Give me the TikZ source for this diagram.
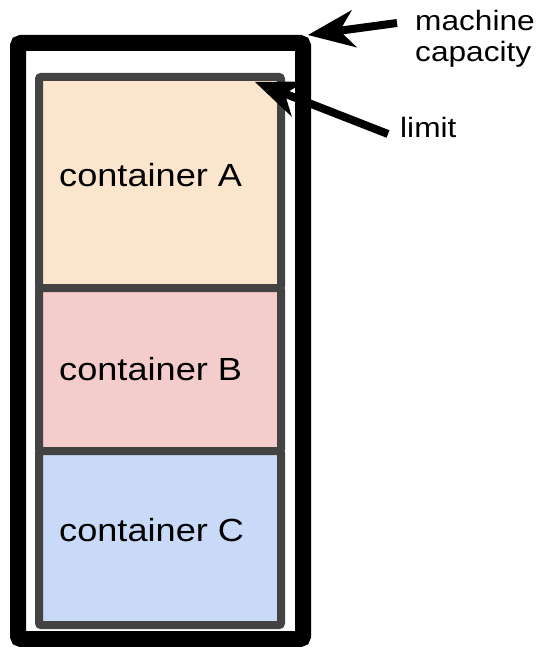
\documentclass[tikz,border=0pt]{standalone}
\usepackage{fontspec}
\setmainfont{Liberation Sans}[FakeStretch=1.13]
\usetikzlibrary{arrows.meta}

\definecolor{boxgray}{HTML}{434343}
\definecolor{fillA}{HTML}{FCE5CD}
\definecolor{fillB}{HTML}{F4CCCC}
\definecolor{fillC}{HTML}{C9DAF8}

\begin{document}
\begin{tikzpicture}[x=1pt, y=-1pt, machine/.style={draw, line width=16pt, rounded corners=3pt, inner sep=0pt, outer sep=0pt}, box/.style={draw=boxgray, line width=8pt, rounded corners=2pt, inner sep=0pt, outer sep=0pt, minimum width=242pt}, boxtext/.style={anchor=base west, inner sep=0pt, font=\fontsize{32}{38}\selectfont}, lbl/.style={anchor=base west, inner sep=0pt, align=left, font=\fontsize{28}{31}\selectfont}, ptr/.style={-{Stealth[length=47pt, width=38pt, inset=15pt, line width=0pt]}, line width=8pt}]
                \useasboundingbox (0,0) rectangle (542,647);
                % machine and containers
                \node[machine, minimum width=285pt, minimum height=596pt] (mach) at (160.5,341) {};
                \node[box, fill=fillA, minimum height=211pt] (A) at (160,182.5) {};
                \node[box, fill=fillB, minimum height=163pt] (B) at (160,369.5) {};
                \node[box, fill=fillC, minimum height=174pt] (C) at (160,538) {};
                \node[boxtext] (tA) at (59,186) {container A};
                \node[boxtext] (tB) at (59,380) {container B};
                \node[boxtext] (tC) at (59,541) {container C};
                % labels
                \node[lbl] (cap) at (415,62) {machine\\capacity};
                \node[lbl] (lim) at (400,138) {limit};
                \coordinate (captail) at (397,23);
                \coordinate (limtail) at (388,134);
                % arrows
                \draw[ptr] (captail) -- ([xshift=5pt, yshift=8pt]mach.north east);
                \draw[ptr] (limtail) -- ([xshift=-26pt, yshift=-5pt]A.north east);
            \end{tikzpicture}
\end{document}
